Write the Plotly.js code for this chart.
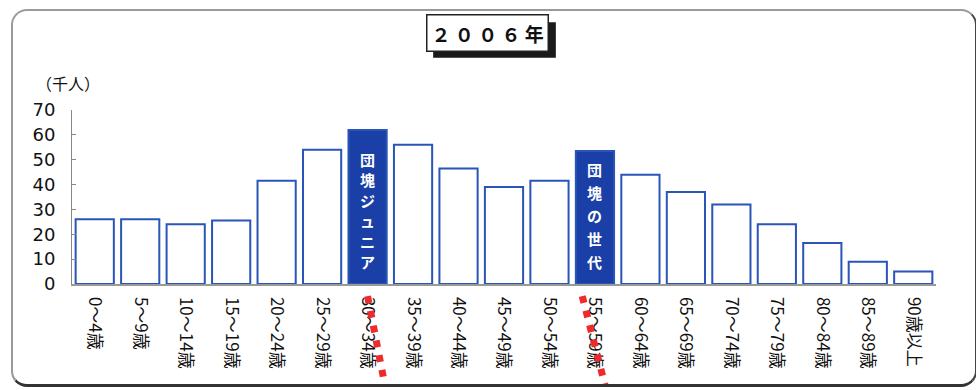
<!DOCTYPE html>
<html><head><meta charset="utf-8">
<script src="https://cdn.plot.ly/plotly-3.0.1.min.js"></script>
<style>
html,body{margin:0;padding:0;background:#fff;}
#wrap{position:relative;width:976px;height:390px;overflow:hidden;}
#chart{position:absolute;left:0;top:0;width:976px;height:390px;}
#frame{position:absolute;left:11px;top:9px;width:966px;height:378px;border:2px solid #9a9a9a;border-right-color:#444;border-bottom:3px solid #333;border-radius:16px;box-sizing:border-box;pointer-events:none;}
</style></head>
<body><div id="wrap"><div id="chart"></div><div id="frame"></div></div>
<script>
const categories = ["0～4歳","5～9歳","10～14歳","15～19歳","20～24歳","25～29歳","30～34歳","35～39歳","40～44歳","45～49歳","50～54歳","55～59歳","60～64歳","65～69歳","70～74歳","75～79歳","80～84歳","85～89歳","90歳以上"];
const population = [26, 26, 24, 25.5, 41.5, 54, 62, 56, 46.5, 39, 41.5, 53.5, 44, 37, 32, 24, 16.5, 9, 5];
const highlighted = ["30～34歳","55～59歳"];
const highlightLabels = ["団塊ジュニア","団塊の世代"];
const yTicks = [0,10,20,30,40,50,60,70];
const titleText = "２ ０ ０ ６ 年";
const yUnit = "（千人）";

const fillColors = categories.map(c => highlighted.includes(c) ? "#1a3fa6" : "#ffffff");
const numFont = "'DejaVu Sans', sans-serif";
const jp = "'Noto Sans CJK JP', sans-serif";

const annotations = [];
highlighted.forEach((c, i) => {
  const chars = Array.from(highlightLabels[i]);
  const step = i === 0 ? 20.5 : 23;
  chars.forEach((ch, k) => {
    annotations.push({
      x: c, y: 0, xref: "x", yref: "y", yanchor: "bottom",
      yshift: 10 + (chars.length - 1 - k) * step,
      text: ch, showarrow: false,
      font: {family: jp, size: 15, color: "#ffffff", weight: "bold"}
    });
  });
});
annotations.push({
  xref: "paper", yref: "paper", x: -0.005, y: 1.155, xanchor: "center", yanchor: "middle",
  text: yUnit, showarrow: false, font: {family: jp, size: 16, color: "#111"}
});
annotations.push({
  xref: "paper", yref: "paper", x: 0.481, y: 1.443, xanchor: "center", yanchor: "middle",
  text: titleText, showarrow: false,
  font: {family: jp, size: 19, color: "#111", weight: "bold"},
  bgcolor: "#ffffff", bordercolor: "#222", borderwidth: 1.5, borderpad: 4
});

const shapes = [
  // title box shadow
  {type: "rect", xref: "paper", yref: "paper", x0: 0.418, x1: 0.560, y0: 1.30, y1: 1.505,
   fillcolor: "#1a1a1a", line: {width: 0}, layer: "above"},
  {type: "line", xref: "x", yref: "paper", x0: 6.0, x1: 6.38, y0: -0.07, y1: -0.58,
   line: {color: "#ee2a2a", width: 7, dash: "7px,8px"}},
  {type: "line", xref: "x", yref: "paper", x0: 10.72, x1: 11.22, y0: -0.07, y1: -0.58,
   line: {color: "#ee2a2a", width: 7, dash: "7px,8px"}}
];

Plotly.newPlot("chart", [{
  type: "bar", x: categories, y: population,
  marker: {color: fillColors, line: {color: "#2a55b8", width: 2}},
  hoverinfo: "skip"
}], {
  width: 976, height: 390,
  margin: {l: 72, r: 40, t: 110, b: 106},
  paper_bgcolor: "#ffffff", plot_bgcolor: "#ffffff",
  bargap: 0.16,
  showlegend: false,
  xaxis: {
    type: "category", tickangle: 90, showgrid: false, zeroline: false,
    showline: true, linecolor: "#999", linewidth: 1.5,
    ticks: "", tickfont: {family: jp, size: 17, color: "#111"}, ticklabelstandoff: 8
  },
  yaxis: {
    range: [0, 70], tickvals: yTicks, showgrid: false, zeroline: false,
    showline: true, linecolor: "#888", linewidth: 1,
    ticks: "inside", ticklen: 4, tickcolor: "#888",
    tickfont: {family: numFont, size: 18, color: "#111"}, ticklabelstandoff: 12
  },
  annotations: annotations,
  shapes: shapes
}, {displayModeBar: false, staticPlot: true});
</script></body></html>
